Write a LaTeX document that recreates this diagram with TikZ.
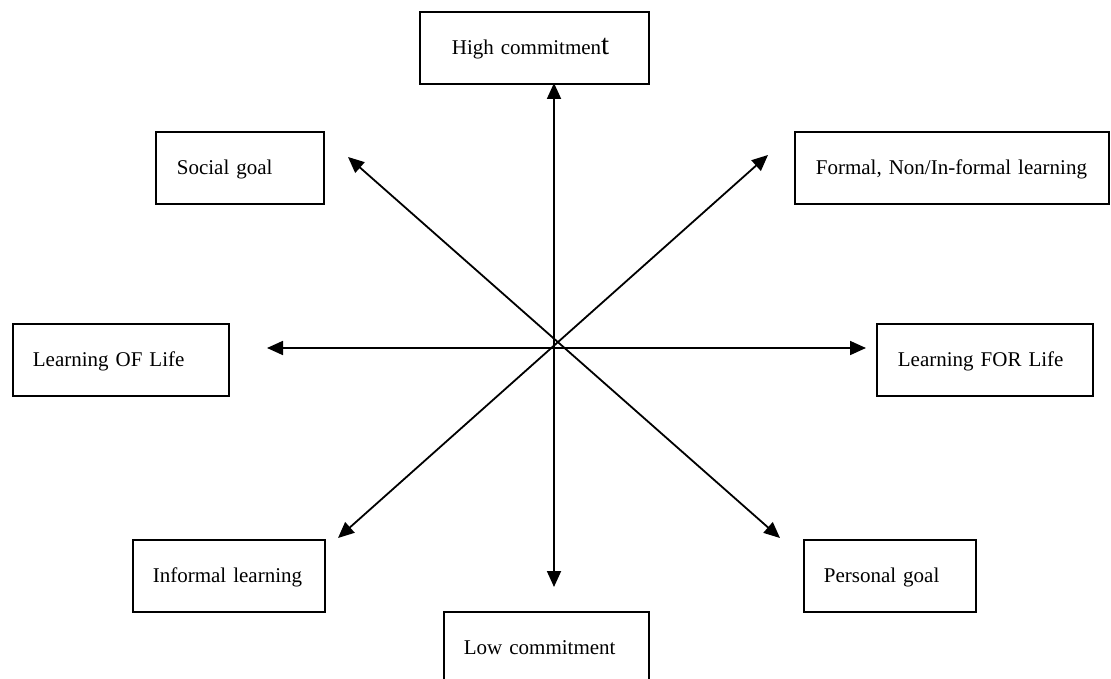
\documentclass[tikz,border=0pt]{standalone}
\usepackage{fontspec}
\setmainfont{Liberation Serif}
\usetikzlibrary{arrows.meta}
\begin{document}
\begin{tikzpicture}[x=1pt,y=-1pt,
  box/.style={draw, line width=1.7pt, anchor=north west, align=left, inner ysep=0pt,
              minimum height=72pt, text height=15pt, text depth=2pt,
              font=\fontsize{21}{25}\selectfont},
  axis/.style={line width=1.8pt, {Triangle[length=16pt,width=14pt]}-{Triangle[length=16pt,width=14pt]}}]
\useasboundingbox (0,0) rectangle (1111,679);
% boxes
\node[box, text width=165pt, inner xsep=32pt] (high) at (419,11) {High commitmen{\fontsize{29}{30}\selectfont t}};
\node[box, text width=126pt, inner xsep=21pt] (social) at (155,131) {Social goal};
\node[box, text width=272pt, inner xsep=21pt] (formal) at (794,131) {Formal, Non/In-formal learning};
\node[box, text width=176pt, inner xsep=20pt] (of) at (12,323) {Learning OF Life};
\node[box, text width=174pt, inner xsep=21pt] (for) at (876,323) {Learning FOR Life};
\node[box, text width=152pt, inner xsep=20pt] (informal) at (132,539) {Informal learning};
\node[box, text width=132pt, inner xsep=20pt] (personal) at (803,539) {Personal goal};
\node[box, text width=165pt, inner xsep=20pt] (low) at (443,611) {Low commitment};
% arrow ends
\coordinate (tup) at (554,83);
\coordinate (tdown) at (554,587);
\coordinate (tleft) at (267,348);
\coordinate (tright) at (866,348);
\coordinate (tul) at (348,157);
\coordinate (tdr) at (780,538);
\coordinate (tur) at (768,155);
\coordinate (tdl) at (338,538);
\draw[axis] (tup) -- (tdown);
\draw[axis] (tleft) -- (tright);
\draw[axis] (tul) -- (tdr);
\draw[axis] (tur) -- (tdl);
\end{tikzpicture}
\end{document}
